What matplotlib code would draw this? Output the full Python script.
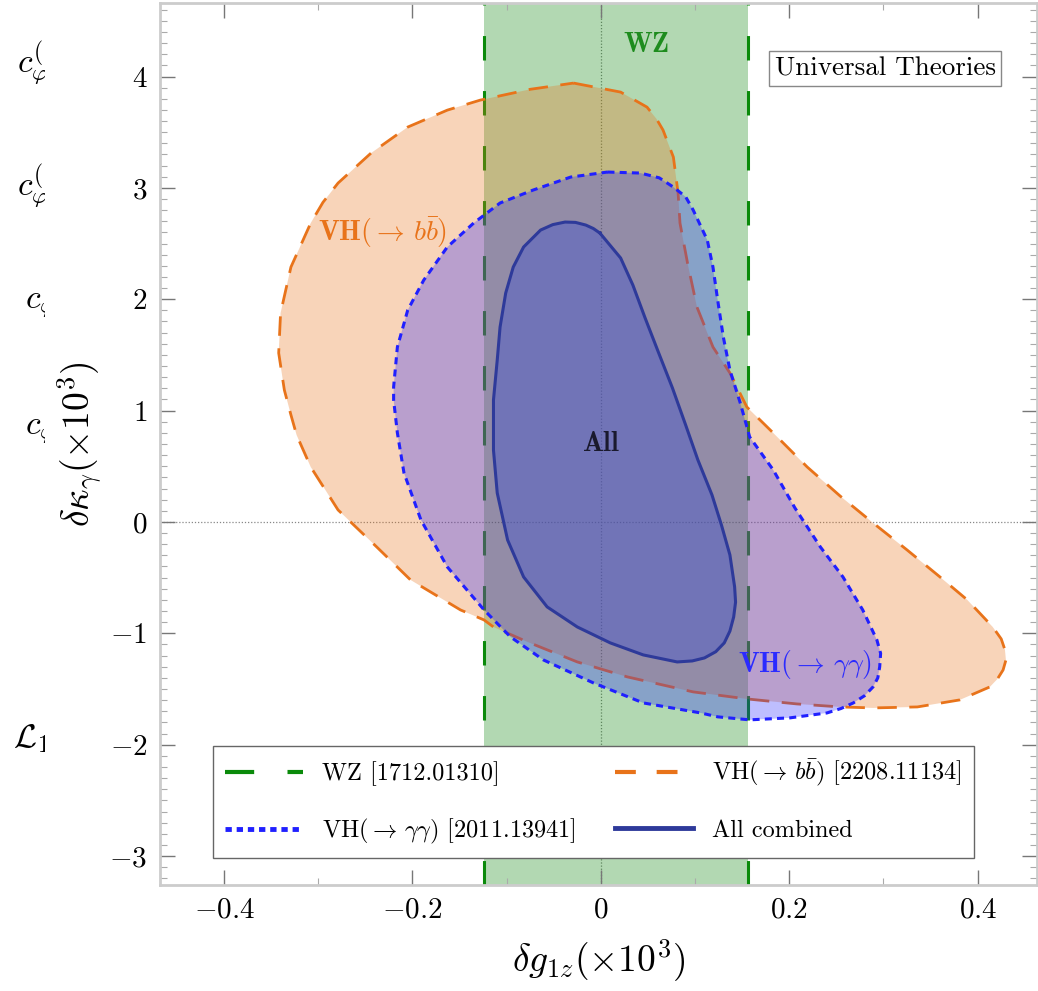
import numpy as np
import matplotlib
matplotlib.use("Agg")
import matplotlib.pyplot as plt
from matplotlib.lines import Line2D
from matplotlib.patches import Rectangle

plt.rcParams.update({"font.family": "cmr10", "mathtext.fontset": "cm",
                     "axes.unicode_minus": False, "axes.formatter.use_mathtext": True})

# WZ band (delta g1z x 10^3)
wz_lo, wz_hi = -0.124, 0.156

# VH(-> bb) contour
bb_x = [-0.029, 0.021, 0.049, 0.059, 0.066, 0.077, 0.082, 0.084, 0.092, 0.102, 0.119, 0.137,
        0.155, 0.183, 0.219, 0.254, 0.289, 0.325, 0.360, 0.389, 0.416, 0.425, 0.429, 0.430,
        0.427, 0.421, 0.413, 0.381, 0.336, 0.289, 0.254, 0.208, 0.155, 0.098, 0.028, -0.025,
        -0.078, -0.114, -0.124, -0.149, -0.202, -0.238, -0.279, -0.308, -0.323, -0.329,
        -0.336, -0.342, -0.340, -0.329, -0.308, -0.295, -0.279, -0.244, -0.205, -0.163,
        -0.128, -0.075]
bb_y = [3.941, 3.860, 3.725, 3.620, 3.519, 3.276, 2.953, 2.684, 2.325, 1.930, 1.571, 1.338,
        1.032, 0.799, 0.494, 0.233, -0.009, -0.251, -0.494, -0.700, -0.943, -1.050, -1.149,
        -1.240, -1.329, -1.410, -1.481, -1.598, -1.661, -1.670, -1.661, -1.634, -1.589,
        -1.526, -1.391, -1.257, -1.077, -0.943, -0.880, -0.790, -0.521, -0.224, 0.108,
        0.494, 0.781, 0.961, 1.185, 1.517, 1.876, 2.289, 2.684, 2.870, 3.043, 3.312, 3.546,
        3.698, 3.788, 3.885]

# VH(-> gamma gamma) contour
aa_x = [0.007, 0.042, 0.062, 0.077, 0.090, 0.098, 0.113, 0.119, 0.124, 0.130, 0.137, 0.148,
        0.158, 0.183, 0.206, 0.233, 0.257, 0.278, 0.293, 0.297, 0.296, 0.294, 0.289, 0.280,
        0.268, 0.255, 0.240, 0.201, 0.158, 0.124, 0.106, 0.045, -0.008, -0.061, -0.096,
        -0.124, -0.163, -0.191, -0.209, -0.216, -0.220, -0.220, -0.216, -0.205, -0.188,
        -0.163, -0.135, -0.107, -0.072, -0.032]
aa_y = [3.142, 3.133, 3.090, 3.007, 2.920, 2.801, 2.531, 2.289, 1.993, 1.661, 1.364, 1.068,
        0.763, 0.467, 0.126, -0.224, -0.494, -0.790, -1.059, -1.180, -1.302, -1.400, -1.481,
        -1.560, -1.625, -1.675, -1.715, -1.759, -1.777, -1.750, -1.715, -1.625, -1.445,
        -1.239, -1.032, -0.790, -0.404, 0.018, 0.440, 0.799, 1.095, 1.212, 1.571, 1.903,
        2.172, 2.469, 2.684, 2.864, 2.980, 3.097]

# All combined contour
all_x = [-0.001, 0.021, 0.034, 0.047, 0.061, 0.076, 0.090, 0.103, 0.118, 0.128, 0.137, 0.142,
         0.143, 0.141, 0.137, 0.131, 0.122, 0.110, 0.097, 0.081, 0.045, 0.010, -0.025,
         -0.057, -0.082, -0.099, -0.110, -0.114, -0.114, -0.110, -0.107, -0.101, -0.093,
         -0.082, -0.064, -0.051, -0.038, -0.027, -0.016, -0.008]
all_y = [2.594, 2.370, 2.127, 1.831, 1.526, 1.203, 0.871, 0.557, 0.242, -0.027, -0.296,
         -0.583, -0.720, -0.853, -0.980, -1.086, -1.165, -1.221, -1.248, -1.257, -1.194,
         -1.086, -0.943, -0.763, -0.494, -0.162, 0.260, 0.646, 1.095, 1.454, 1.750, 2.056,
         2.289, 2.469, 2.621, 2.670, 2.693, 2.690, 2.666, 2.635]

GREEN_LN = "#0a8a0a"
ORANGE = "#e8731a"
BLUE = "#2020ff"
NAVY_LN, NAVY_FILL = "#2e3a9a", "#3f51d0"

def closed(x, y):
    return list(x) + [x[0]], list(y) + [y[0]]

fig = plt.figure(figsize=(10.38, 9.91), dpi=100)
ax = fig.add_axes([160/1038, 106/991, 877/1038, 882/991])

ax.axvline(0, color="#888888", lw=0.9, ls=(0, (1, 1.5)), zorder=0.5)
ax.axhline(0, color="#888888", lw=0.9, ls=(0, (1, 1.5)), zorder=0.5)

ax.axvspan(wz_lo, wz_hi, color="#008000", alpha=0.3, lw=0, zorder=1)
for xv in (wz_lo, wz_hi):
    ax.axvline(xv, color=GREEN_LN, lw=2.2, dashes=(8, 10), zorder=1.1)

ax.fill(bb_x, bb_y, color=ORANGE, alpha=0.3, lw=0, zorder=2)
ax.plot(*closed(bb_x, bb_y), color=ORANGE, lw=2.0, dashes=(7, 4.5), zorder=2.1)

ax.fill(aa_x, aa_y, color=BLUE, alpha=0.29, lw=0, zorder=3)
ax.plot(*closed(aa_x, aa_y), color=BLUE, lw=2.2, dashes=(2.3, 1.7), zorder=3.1)

ax.fill(all_x, all_y, color=NAVY_FILL, alpha=0.4, lw=0, zorder=4)
ax.plot(*closed(all_x, all_y), color=NAVY_LN, lw=2.2, zorder=4.1)

# labels inside the plot
ax.text(0.048, 4.28, r"$\mathbf{WZ}$", color="#1e8c1e", fontsize=20, ha="center", va="center", zorder=6)
ax.text(-0.232, 2.60, r"$\mathbf{VH}(\rightarrow\, b\bar{b})$", color=ORANGE, fontsize=20,
        ha="center", va="center", zorder=6)
ax.text(0.217, -1.28, r"$\mathbf{VH}(\rightarrow\, \gamma\gamma)$", color="#2b2bff", fontsize=20,
        ha="center", va="center", zorder=6)
ax.text(0.0, 0.70, r"$\mathbf{All}$", color="#1a1a2e", fontsize=20, ha="center", va="center", zorder=6)

ax.text(0.8267, 0.926, "Universal Theories", transform=ax.transAxes, fontsize=19.5,
        ha="center", va="center", zorder=7,
        bbox=dict(boxstyle="square,pad=0.2", fc="white", ec="#888888", lw=1))

ax.set_xlim(-0.468, 0.463)
ax.set_ylim(-3.26, 4.66)

xt = [-0.4, -0.2, 0, 0.2, 0.4]
yt = [-3, -2, -1, 0, 1, 2, 3, 4]
ax.set_xticks(xt)
ax.set_xticklabels([r"$%g$" % v for v in xt])
ax.set_yticks(yt)
ax.set_yticklabels([r"$%d$" % v for v in yt])
ax.set_xticks(np.arange(-0.4, 0.41, 0.1), minor=True)
ax.set_yticks(np.arange(-3.2, 4.61, 0.1), minor=True)
ax.tick_params(which="both", direction="in", top=True, right=True, color="#777777")
ax.tick_params(which="major", length=11, width=1.0, labelsize=21, pad=9)
ax.tick_params(which="minor", length=5, width=0.8, color="#aaaaaa")
for s in ax.spines.values():
    s.set_color("#cccccc")
    s.set_linewidth(2)

ax.set_xlabel(r"$\delta g_{1z}(\times 10^3)$", fontsize=27, labelpad=10)
ax.set_ylabel(r"$\delta \kappa_\gamma(\times 10^3)$", fontsize=27, labelpad=4)

handles = [
    Line2D([], [], color=GREEN_LN, lw=3, dashes=(7, 8)),
    Line2D([], [], color=BLUE, lw=3.5, dashes=(1.3, 1)),
    Line2D([], [], color=ORANGE, lw=3, dashes=(5, 5)),
    Line2D([], [], color=NAVY_LN, lw=3.5),
]
labels = ["WZ [1712.01310]", r"VH$(\rightarrow\, \gamma\gamma)$ [2011.13941]",
          r"VH$(\rightarrow\, b\bar{b})$ [2208.11134]", "All combined"]
leg = ax.legend(handles, labels, loc="lower left", bbox_to_anchor=(0.0604, 0.0306),
                borderaxespad=0, ncol=2, fontsize=17.5, handlelength=3.2, handletextpad=0.8,
                labelspacing=1.25, columnspacing=1.6, borderpad=0.5,
                fancybox=False, framealpha=1, edgecolor="#666666")
leg.set_zorder(8)
leg.get_frame().set_linewidth(1)

# clipped labels of the neighbouring panel
clip = Rectangle((0, 0), 45/1038, 1, transform=fig.transFigure)
side = [(r"$c_{\varphi}^{(}$", 17, 72), (r"$c_{\varphi}^{(}$", 17, 195),
        (r"$c_{\varphi}$", 25, 307), (r"$c_{\varphi}$", 25, 433),
        (r"$\mathcal{L}_{1}$", 13, 747)]
for s, xp, yp in side:
    t = fig.text(xp/1038, 1 - yp/991, s, fontsize=24, ha="left", va="baseline")
    t.set_clip_path(clip)

fig.savefig("out.png", dpi=100)
